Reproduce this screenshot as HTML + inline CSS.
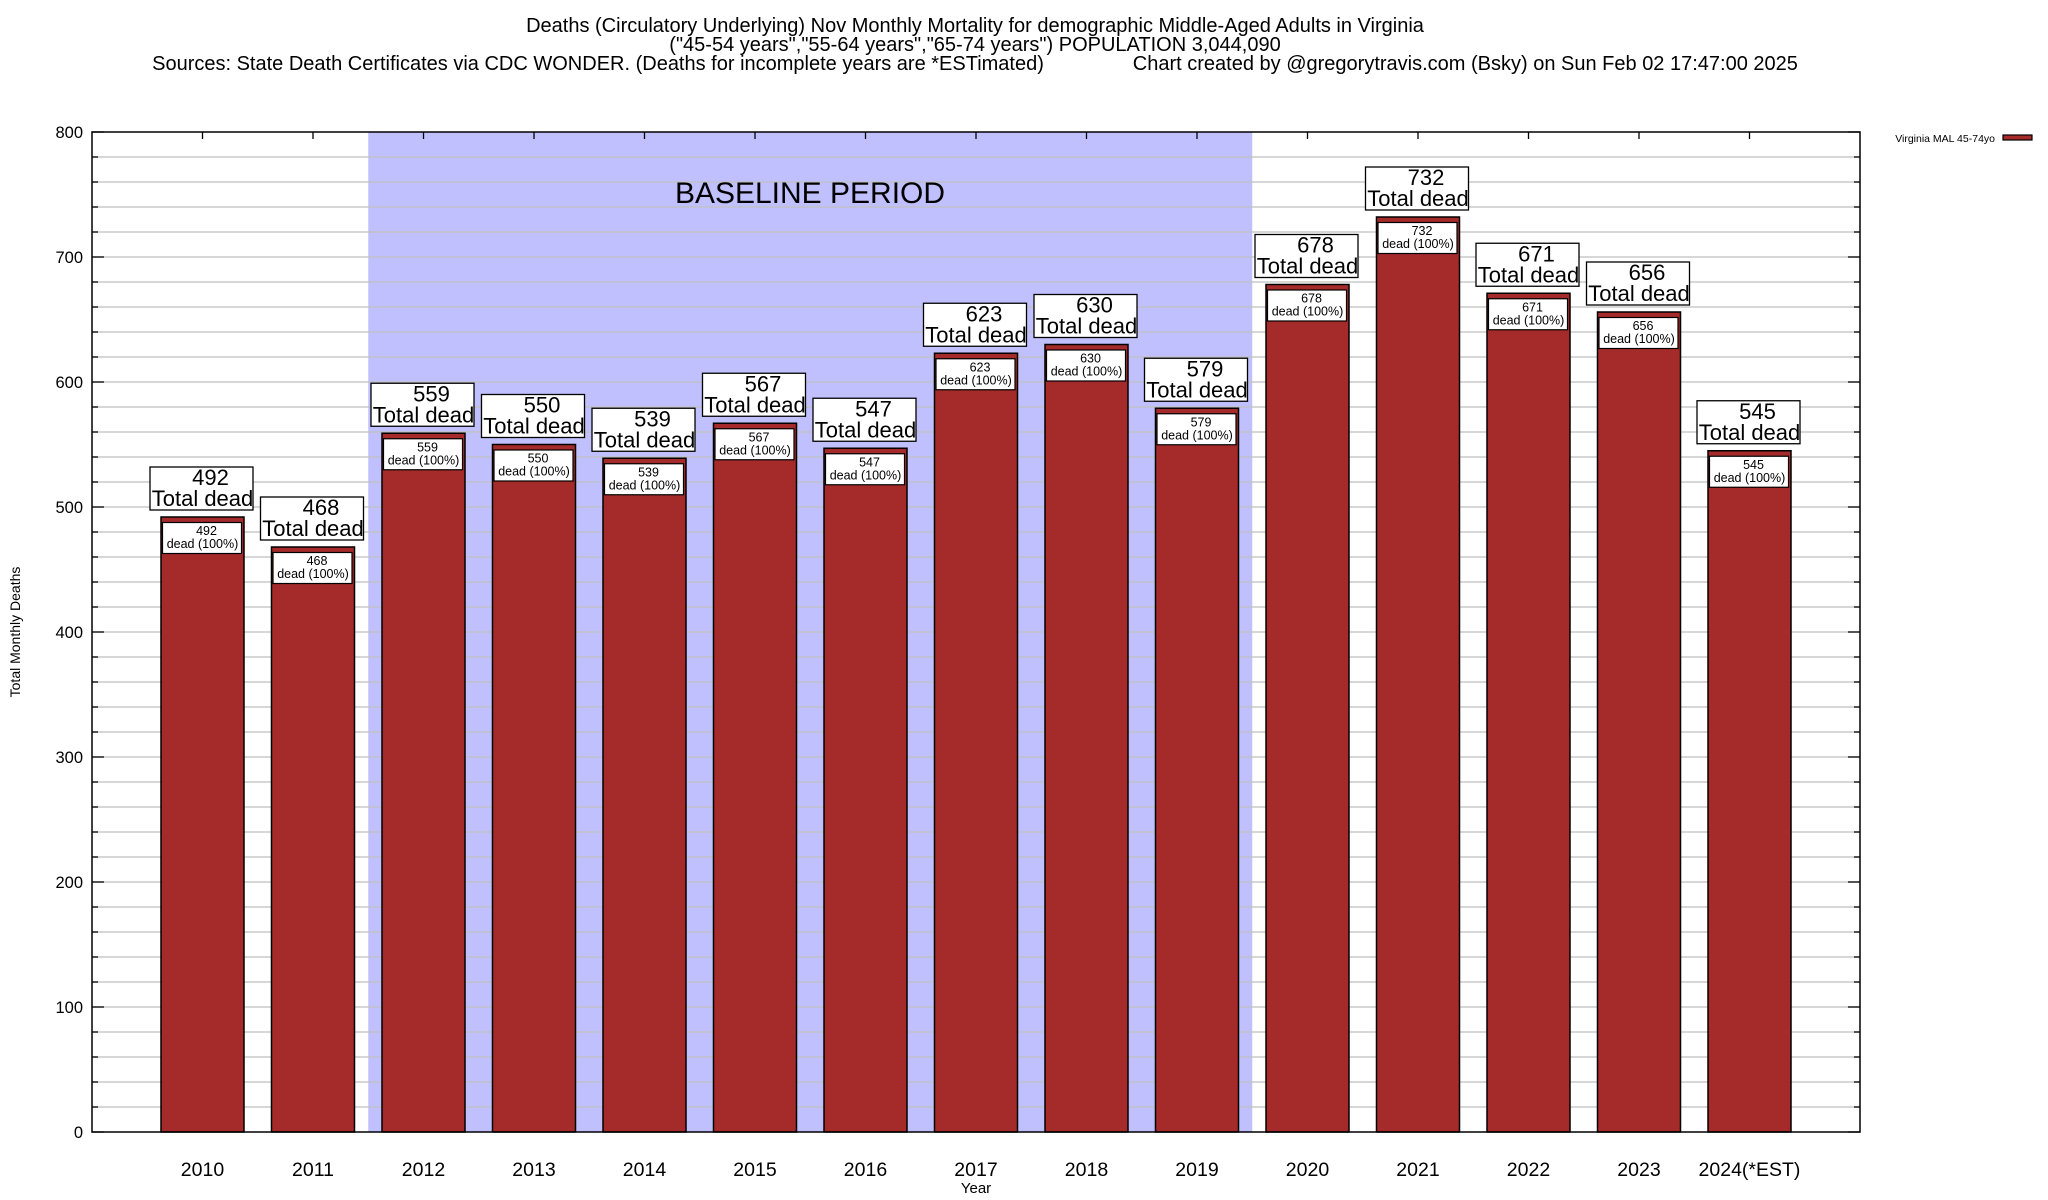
<!DOCTYPE html>
<html><head><meta charset="utf-8"><style>
html,body{margin:0;padding:0;background:#fff;}
svg{display:block;font-family:"Liberation Sans",Arial,sans-serif;}
</style></head><body>
<svg id="chart" width="2048" height="1200" viewBox="0 0 2048 1200" xmlns="http://www.w3.org/2000/svg">
<g font-size="20" text-anchor="middle" fill="#000">
<text x="975" y="32">Deaths (Circulatory Underlying) Nov Monthly Mortality for demographic Middle-Aged Adults in Virginia</text>
<text x="975" y="51">("45-54 years","55-64 years","65-74 years") POPULATION 3,044,090</text>
<text x="975" y="70" xml:space="preserve">Sources: State Death Certificates via CDC WONDER. (Deaths for incomplete years are *ESTimated)                Chart created by @gregorytravis.com (Bsky) on Sun Feb 02 17:47:00 2025</text>
</g>
<g id="plot"></g>
</svg>
<script>
const categories=["2010","2011","2012","2013","2014","2015","2016","2017","2018","2019","2020","2021","2022","2023","2024(*EST)"];
const deaths=[492,468,559,550,539,567,547,623,630,579,678,732,671,656,545];
const yTicks=[0,100,200,300,400,500,600,700,800];
const baselineStart=2, baselineEnd=9;

const NS="http://www.w3.org/2000/svg";
const L=92,R=1860,T=132,B=1132,YMAX=800,SLOTS=16;
const slot=(R-L)/SLOTS;
function xC(i){return L+(i+1)*slot;}
function yS(v){return B-(v/YMAX)*(B-T);}
const g=document.getElementById('plot');
function el(tag,attrs,parent,text){const e=document.createElementNS(NS,tag);for(const k in attrs)e.setAttribute(k,attrs[k]);if(text!==undefined)e.textContent=text;(parent||g).appendChild(e);return e;}

const sh=el('rect',{x:xC(baselineStart)-slot/2,y:T,width:(baselineEnd-baselineStart+1)*slot,height:B-T,fill:'#c0c0ff'});


for(let v=20;v<YMAX;v+=20){
  const ln=el('line',{x1:L,x2:R,y1:yS(v),y2:yS(v),stroke:'#bfbfbf','stroke-width':1.3});
  
  
}
const bt=el('text',{x:810,y:203,'font-size':30,'text-anchor':'middle'},g,'BASELINE PERIOD');



const bw=83;
deaths.forEach((d,i)=>{
  const cx=xC(i),top=yS(d);
  const bg=el('g',{});
  
  
  el('rect',{x:cx-bw/2,y:top,width:bw,height:B-top,fill:'#a52a2a',stroke:'#000','stroke-width':1.5},bg);
  el('rect',{x:cx-bw/2+1.5,y:top+5.5,width:bw-4,height:31,fill:'#fff',stroke:'#000','stroke-width':1.2},bg);
  el('text',{x:cx+4,y:top+18,'font-size':12.5,'text-anchor':'middle'},bg,String(d));
  el('text',{x:cx,y:top+31,'font-size':12.5,'text-anchor':'middle'},bg,'dead (100%)');
  const lb=el('g',{});
  
  
  el('rect',{x:cx-52.5,y:top-50,width:103,height:43,fill:'#fff',stroke:'#000','stroke-width':1.3},lb);
  el('text',{x:cx+8,y:top-32,'font-size':22,'text-anchor':'middle'},lb,String(d));
  el('text',{x:cx,y:top-11,'font-size':22,'text-anchor':'middle'},lb,'Total dead');
  const xl=el('text',{x:cx,y:1176,'font-size':19.5,'text-anchor':'middle'},g,categories[i]);
  
  
  const tk=el('line',{x1:cx,x2:cx,y1:T,y2:T+7,stroke:'#000','stroke-width':1.3});
  
  
});

for(let v=0;v<=YMAX;v+=20){
  const major=v%100===0,len=major?12:6;
  el('line',{x1:L,x2:L+len,y1:yS(v),y2:yS(v),stroke:'#000','stroke-width':1.3});
  el('line',{x1:R-len,x2:R,y1:yS(v),y2:yS(v),stroke:'#000','stroke-width':1.3});
}
yTicks.forEach(v=>{
  const t=el('text',{x:83,y:yS(v)+6,'font-size':16.5,'text-anchor':'end'},g,String(v));
  
  
});
const bd=el('rect',{x:L,y:T,width:R-L,height:B-T,fill:'none',stroke:'#000','stroke-width':1.5});


const yt=el('text',{x:0,y:0,'font-size':14,'text-anchor':'middle',transform:'translate(20,632) rotate(-90)'},g,'Total Monthly Deaths');


const xt=el('text',{x:976,y:1193,'font-size':15,'text-anchor':'middle'},g,'Year');


const lg=el('g',{});


el('text',{x:1995,y:142,'font-size':10.5,'text-anchor':'end'},lg,'Virginia MAL 45-74yo');
el('rect',{x:2003,y:135,width:29,height:5,fill:'#a52a2a',stroke:'#000','stroke-width':1.2},lg);
</script>
</body></html>
